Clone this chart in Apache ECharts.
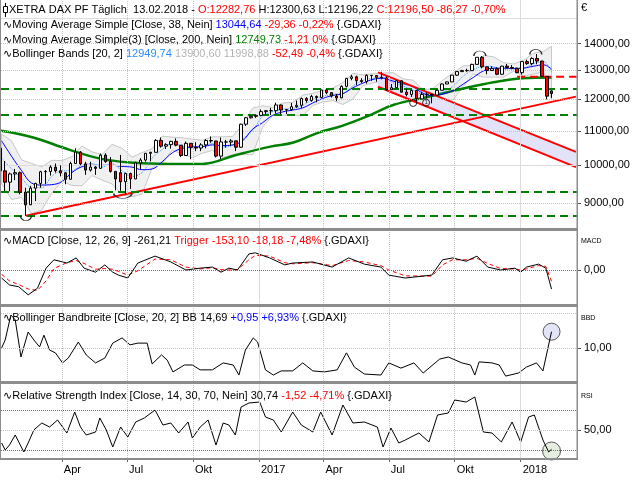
<!DOCTYPE html>
<html>
<head>
<meta charset="utf-8">
<script src="https://cdn.jsdelivr.net/npm/echarts@6.0.0/dist/echarts.min.js"></script>
<style>
html,body{margin:0;padding:0;background:#fff;}
#chart{width:640px;height:480px;}
</style>
</head>
<body>
<div id="chart"></div>
<script>
// ---------- DATA ----------
// weekly candles: [date, open, close, low, high]
const candles = [
['2016-01-06',10486,9849,9812,10486],['2016-01-13',9849,9545,9314,10120],['2016-01-20',9545,9764,9310,9800],['2016-01-27',9764,9798,9600,9900],
['2016-02-03',9798,9286,9230,9830],['2016-02-10',9286,8967,8699,9400],['2016-02-17',8967,9388,8960,9450],['2016-02-24',9388,9513,9060,9530],
['2016-03-02',9513,9824,9400,9850],['2016-03-09',9824,9831,9500,9870],['2016-03-16',9831,9950,9720,10000],['2016-03-23',9950,9851,9800,10050],
['2016-03-30',9851,9794,9700,10000],['2016-04-06',9794,9622,9490,9820],['2016-04-13',9622,10051,9620,10100],['2016-04-20',10051,10373,10050,10480],
['2016-04-27',10373,10039,10000,10400],['2016-05-04',10039,9870,9740,10100],['2016-05-11',9870,9952,9830,10100],['2016-05-18',9952,9916,9740,9980],
['2016-05-25',9916,10287,9900,10330],['2016-06-01',10287,10103,10070,10340],['2016-06-08',10103,9834,9800,10230],['2016-06-15',9834,9631,9330,9840],
['2016-06-22',9800,9557,9320,10290],['2016-06-29',9557,9776,9214,9800],['2016-07-06',9776,9630,9370,9800],['2016-07-13',9630,10066,9630,10100],
['2016-07-20',10066,10147,9900,10200],['2016-07-27',10147,10337,10100,10350],['2016-08-03',10337,10367,10110,10380],['2016-08-10',10367,10713,10370,10750],
['2016-08-17',10713,10544,10500,10800],['2016-08-24',10544,10588,10460,10630],['2016-08-31',10588,10684,10470,10700],['2016-09-07',10684,10573,10540,10770],
['2016-09-14',10573,10276,10230,10560],['2016-09-21',10276,10627,10260,10680],['2016-09-28',10627,10511,10170,10630],['2016-10-05',10511,10490,10400,10660],
['2016-10-12',10490,10580,10400,10630],['2016-10-19',10580,10711,10480,10750],['2016-10-26',10711,10696,10640,10830],['2016-11-02',10696,10259,10220,10700],
['2016-11-09',10259,10668,10170,10800],['2016-11-16',10668,10664,10500,10730],['2016-11-23',10664,10699,10550,10750],['2016-11-30',10699,10513,10400,10700],
['2016-12-07',10513,11203,10500,11220],['2016-12-14',11203,11404,11150,11430],['2016-12-21',11404,11450,11380,11480],['2016-12-28',11450,11481,11400,11490],
['2017-01-04',11481,11599,11450,11670],['2017-01-11',11599,11629,11500,11650],['2017-01-18',11629,11630,11490,11720],['2017-01-25',11630,11814,11540,11890],
['2017-02-01',11814,11651,11520,11830],['2017-02-08',11651,11666,11520,11680],['2017-02-15',11666,11757,11620,11880],['2017-02-22',11757,11804,11720,11960],
['2017-03-01',11804,12027,11720,12060],['2017-03-08',12027,11963,11890,12070],['2017-03-15',11963,12095,11920,12150],['2017-03-22',12095,12064,11900,12130],
['2017-03-29',12064,12313,12050,12320],['2017-04-05',12313,12225,12170,12330],['2017-04-12',12225,12109,12060,12240],['2017-04-19',12109,12049,11940,12180],
['2017-04-26',12049,12438,12040,12470],['2017-05-03',12438,12717,12400,12730],['2017-05-10',12717,12770,12650,12840],['2017-05-17',12770,12638,12480,12810],
['2017-05-24',12638,12602,12560,12720],['2017-05-31',12602,12823,12530,12860],['2017-06-07',12823,12816,12630,12830],['2017-06-14',12816,12753,12600,12820],
['2017-06-21',12753,12733,12680,12950],['2017-06-28',12733,12325,12290,12780],['2017-07-05',12325,12389,12330,12520],['2017-07-12',12389,12631,12380,12650],
['2017-07-19',12631,12240,12230,12660],['2017-07-26',12240,12163,12100,12340],['2017-08-02',12163,12298,12080,12320],['2017-08-09',12298,12014,11930,12300],
['2017-08-16',12014,12165,12000,12260],['2017-08-23',12165,12168,12030,12230],['2017-08-30',12168,12143,11870,12180],['2017-09-06',12143,12304,12130,12320],
['2017-09-13',12304,12519,12300,12540],['2017-09-20',12519,12592,12520,12600],['2017-09-27',12592,12829,12590,12830],['2017-10-04',12829,12956,12800,12970],
['2017-10-11',12956,12992,12940,13020],['2017-10-18',12992,12991,12950,13060],['2017-10-25',12991,13217,12980,13240],['2017-11-01',13217,13478,13210,13480],
['2017-11-08',13478,13127,13070,13525],['2017-11-15',13127,12994,12860,13130],['2017-11-22',12994,13060,12990,13150],['2017-11-29',13060,12861,12830,13110],
['2017-12-06',12861,13153,12850,13160],['2017-12-13',13153,13104,13070,13230],['2017-12-20',13104,13072,13040,13190],['2017-12-27',13072,12918,12900,13100],
['2018-01-03',12918,13320,12850,13330],['2018-01-10',13320,13245,13200,13390],['2018-01-17',13245,13434,13180,13480],['2018-01-24',13434,13340,13220,13600],
['2018-01-31',13340,12785,12780,13300],['2018-02-07',12785,12107,12000,12800],['2018-02-13',12283,12196,12050,12301]
];

const ma38 = [
['2016-01-08',10700],['2016-01-22',10250],['2016-02-05',9850],['2016-02-19',9520],['2016-03-04',9470],['2016-03-18',9480],['2016-04-01',9560],
['2016-04-15',9800],['2016-04-29',9960],['2016-05-13',10000],['2016-05-27',10000],['2016-06-10',10000],['2016-06-24',9970],['2016-07-08',9950],
['2016-07-22',9880],['2016-08-05',9900],['2016-08-19',10100],['2016-09-02',10350],['2016-09-16',10480],['2016-09-30',10520],['2016-10-14',10530],
['2016-10-28',10580],['2016-11-11',10560],['2016-11-25',10580],['2016-12-09',10700],['2016-12-23',11050],['2017-01-06',11250],['2017-01-20',11480],
['2017-02-03',11590],['2017-02-17',11650],['2017-03-03',11720],['2017-03-17',11880],['2017-03-31',12030],['2017-04-14',12130],['2017-04-28',12190],
['2017-05-12',12390],['2017-05-26',12550],['2017-06-09',12680],['2017-06-23',12720],['2017-07-07',12620],['2017-07-21',12530],['2017-08-04',12420],
['2017-08-18',12200],['2017-09-01',12120],['2017-09-15',12180],['2017-09-29',12300],['2017-10-13',12520],['2017-10-27',12750],['2017-11-10',12980],
['2017-11-24',13080],['2017-12-08',13080],['2017-12-22',13060],['2018-01-05',13080],['2018-01-19',13150],['2018-02-02',13200],['2018-02-13',13044.64]
];

const ma200 = [
['2016-01-07',11000],['2016-02-21',10800],['2016-04-10',10450],['2016-05-26',10180],['2016-07-11',10070],['2016-08-28',10040],['2016-10-14',10040],
['2016-11-30',10290],['2017-01-17',10530],['2017-02-18',10650],['2017-03-24',10940],['2017-04-27',11150],['2017-06-01',11450],['2017-07-08',11820],
['2017-08-24',12080],['2017-10-10',12350],['2017-11-26',12590],['2018-01-03',12720],['2018-02-13',12749.73]
];

const bbDates = ['2016-01-08','2016-01-22','2016-02-05','2016-02-19','2016-03-04','2016-03-18','2016-04-01','2016-04-15','2016-04-29','2016-05-13',
'2016-05-27','2016-06-10','2016-06-24','2016-07-08','2016-07-22','2016-08-05','2016-08-19','2016-09-02','2016-09-16','2016-09-30','2016-10-14',
'2016-10-28','2016-11-11','2016-11-25','2016-12-09','2016-12-23','2017-01-06','2017-01-20','2017-02-03','2017-02-17','2017-03-03','2017-03-17',
'2017-03-31','2017-04-14','2017-04-28','2017-05-12','2017-05-26','2017-06-09','2017-06-23','2017-07-07','2017-07-21','2017-08-04','2017-08-18',
'2017-09-01','2017-09-15','2017-09-29','2017-10-13','2017-10-27','2017-11-10','2017-11-24','2017-12-08','2017-12-22','2018-01-05','2018-01-19',
'2018-02-02','2018-02-13'];
const bbUpper = [10900,10700,10150,10050,9960,10140,10130,10240,10550,10380,10300,10600,10480,10230,10360,10470,10840,10810,10790,10750,10720,
10820,10820,10830,11180,11710,11790,11730,11880,11900,12140,12200,12290,12380,12570,12890,12840,12880,12900,12920,12700,12650,12320,12370,12670,
12910,13160,13190,13540,13500,13280,13230,13370,13630,13700,13900.60];
const bbMid = [10200,9900,9650,9400,9400,9700,9850,9850,10000,10050,9950,10050,9850,9700,9800,10200,10450,10620,10550,10480,10530,10620,10520,
10560,10750,11000,11450,11600,11680,11700,11800,12000,12100,12170,12200,12450,12650,12720,12760,12560,12450,12300,12150,12130,12250,12450,12800,
13030,13150,13130,13020,13100,13080,13250,13320,12949.74];
const bbLower = [9500,9100,9150,8750,8840,9260,9570,9460,9450,9720,9600,9500,9220,9170,9240,9930,10060,10430,10310,10210,10340,10420,10220,10290,
10320,10290,11110,11470,11480,11500,11460,11800,11910,11960,11830,12010,12460,12560,12620,12200,12200,11950,11980,11890,11830,11990,12440,12870,
12760,12760,12760,12970,12790,12870,12950,11998.88];

// horizontal support levels (green dashed)
const supportLevels = [12350, 11500, 9300, 8700];
// trend lines: [start, end] as [date, value]
const trendUp = [['2016-02-11', 8700], ['2018-03-19', 12090]];
const channelTop = [['2017-06-16', 12930], ['2018-03-19', 10380]];
const channelBottom = [['2017-06-16', 12425], ['2018-03-19', 9950]];
const resistance = [['2017-12-27', 12770], ['2018-03-20', 12770]];

const macdLine = [
['2016-01-08',-110],['2016-01-19',-205],['2016-02-01',-230],['2016-02-14',-340],['2016-02-27',-250],['2016-03-10',25],['2016-03-21',140],
['2016-04-08',95],['2016-04-21',165],['2016-05-02',25],['2016-05-18',-30],['2016-05-31',70],['2016-06-11',-30],['2016-06-19',-70],['2016-07-02',-110],
['2016-07-16',95],['2016-08-09',190],['2016-08-31',110],['2016-09-21',0],['2016-10-11',25],['2016-10-28',40],['2016-11-09',-30],['2016-11-20',25],
['2016-12-02',0],['2016-12-18',220],['2016-12-27',235],['2017-01-16',165],['2017-02-06',70],['2017-02-17',95],['2017-03-17',110],['2017-04-13',40],
['2017-05-06',165],['2017-05-28',80],['2017-06-20',40],['2017-07-01',-70],['2017-07-24',-110],['2017-08-30',-70],['2017-09-14',140],['2017-09-28',165],
['2017-10-17',120],['2017-11-01',190],['2017-11-16',40],['2017-12-04',0],['2017-12-24',25],['2018-01-01',-30],['2018-01-09',40],['2018-01-26',80],
['2018-02-05',25],['2018-02-13',-261.21]
];
const macdTrigger = [
['2016-01-08',-60],['2016-01-19',-150],['2016-02-01',-200],['2016-02-14',-260],['2016-02-27',-280],['2016-03-10',-150],['2016-03-21',20],
['2016-04-08',100],['2016-04-21',130],['2016-05-02',90],['2016-05-18',10],['2016-05-31',20],['2016-06-11',10],['2016-06-19',-20],['2016-07-02',-70],
['2016-07-16',-10],['2016-08-09',150],['2016-08-31',140],['2016-09-21',40],['2016-10-11',15],['2016-10-28',30],['2016-11-09',5],['2016-11-20',0],
['2016-12-02',5],['2016-12-18',140],['2016-12-27',200],['2017-01-16',190],['2017-02-06',100],['2017-02-17',85],['2017-03-17',100],['2017-04-13',60],
['2017-05-06',130],['2017-05-28',110],['2017-06-20',60],['2017-07-01',0],['2017-07-24',-80],['2017-08-30',-85],['2017-09-14',70],['2017-09-28',140],
['2017-10-17',140],['2017-11-01',160],['2017-11-16',90],['2017-12-04',20],['2017-12-24',15],['2018-01-01',0],['2018-01-09',15],['2018-01-26',60],
['2018-02-05',50],['2018-02-13',-153.10]
];

const bbWidth = [
['2016-01-08',10.0],['2016-01-13',12.3],['2016-01-21',19.5],['2016-01-27',18.1],['2016-02-04',7.4],['2016-02-14',14.6],['2016-02-22',12.3],
['2016-03-01',10.3],['2016-03-07',13.7],['2016-03-15',9.4],['2016-03-23',8.6],['2016-04-02',5.7],['2016-04-10',7.1],['2016-04-24',11.7],
['2016-05-05',8.0],['2016-05-18',5.7],['2016-05-31',7.1],['2016-06-11',11.4],['2016-06-24',12.9],['2016-07-05',10.9],['2016-07-16',11.4],
['2016-07-29',11.4],['2016-08-05',5.4],['2016-08-18',8.0],['2016-08-26',6.5],['2016-09-03',3.1],['2016-09-19',5.1],['2016-09-30',5.1],
['2016-10-11',3.7],['2016-10-28',3.7],['2016-11-12',5.7],['2016-11-26',5.1],['2016-12-04',2.2],['2016-12-13',9.4],['2016-12-24',12.9],
['2016-12-30',11.7],['2017-01-10',3.7],['2017-01-21',2.2],['2017-02-01',3.4],['2017-02-17',3.4],['2017-03-03',5.7],['2017-03-17',3.4],
['2017-04-02',3.1],['2017-04-20',3.7],['2017-05-03',8.6],['2017-05-14',4.5],['2017-05-28',2.5],['2017-06-20',2.2],['2017-07-01',5.7],
['2017-07-18',4.2],['2017-08-05',5.7],['2017-08-18',2.8],['2017-09-10',6.8],['2017-09-22',7.4],['2017-10-11',5.7],['2017-10-23',5.1],
['2017-10-29',2.2],['2017-11-04',6.0],['2017-11-22',5.7],['2017-12-02',5.1],['2017-12-11',1.9],['2017-12-29',2.8],['2018-01-09',4.5],
['2018-01-23',5.7],['2018-02-01',3.4],['2018-02-13',14.69]
];

const rsiLine = [
['2016-01-08',37],['2016-01-13',30],['2016-01-19',35],['2016-01-27',45],['2016-02-01',38],['2016-02-08',28],['2016-02-14',37],['2016-02-22',50],
['2016-03-04',57],['2016-03-15',53],['2016-03-26',60],['2016-04-08',47],['2016-04-19',68],['2016-04-27',53],['2016-05-05',45],['2016-05-18',48],
['2016-05-24',62],['2016-06-02',50],['2016-06-11',33],['2016-06-22',53],['2016-07-02',43],['2016-07-13',58],['2016-07-25',62],['2016-08-09',70],
['2016-08-20',55],['2016-08-31',57],['2016-09-11',47],['2016-09-24',58],['2016-09-30',42],['2016-10-11',53],['2016-10-22',60],['2016-11-02',35],
['2016-11-12',57],['2016-11-20',55],['2016-11-29',45],['2016-12-07',73],['2016-12-18',77],['2017-01-02',78],['2017-01-10',63],['2017-01-21',60],
['2017-02-01',48],['2017-02-17',68],['2017-03-01',55],['2017-03-17',48],['2017-03-28',68],['2017-04-13',45],['2017-04-28',75],['2017-05-12',57],
['2017-05-28',58],['2017-06-15',53],['2017-06-23',33],['2017-07-04',52],['2017-07-15',37],['2017-07-24',40],['2017-08-12',47],['2017-08-26',38],
['2017-09-07',65],['2017-09-22',67],['2017-10-01',80],['2017-10-17',78],['2017-10-29',83],['2017-11-10',48],['2017-11-22',47],['2017-12-05',38],
['2017-12-20',58],['2018-01-01',38],['2018-01-12',63],['2018-01-20',65],['2018-02-01',40],['2018-02-09',28],['2018-02-13',30.74]
];

const priceTicks = [9000, 10000, 11000, 12000, 13000, 14000];
const priceGridSolid = [10000, 15000];
const priceGridDotted = [9000, 11000, 12000, 13000, 14000];
const quarterTicks = ['2016-04-01','2016-07-01','2016-10-01','2017-01-01','2017-04-01','2017-07-01','2017-10-01','2018-01-01'];
const quarterNames = {3:'Apr', 6:'Jul', 9:'Okt'};

// ---------- HELPERS ----------
const T = s => Date.parse(s.length === 10 ? s + 'T00:00:00Z' : s + 'Z');
const XMIN = T('2016-01-07T04:00:00'), XMAX = T('2018-03-20T12:00:00');
const FONT = '"Liberation Sans", Arial, sans-serif';
const pts = arr => arr.map(p => [T(p[0]), p[1]]);
const fmt = v => v.toFixed(2).replace('.', ',');
const DOT = '#c4c4c4', SOLID = '#dcdcdc';

function vGrid() {
  return quarterTicks.map(q => ({
    xAxis: T(q),
    lineStyle: q.endsWith('01-01') ? {type:'solid', color: SOLID, width:1} : {type:'dotted', color: DOT, width:1}
  }));
}
function ml(data) {
  return {silent:true, symbol:['none','none'], label:{show:false}, animation:false, emphasis:{disabled:true}, data};
}
function dummy(xi, yv, data, z) {
  return {type:'line', xAxisIndex:xi, yAxisIndex:xi, data:[[T('2017-01-01'), yv]], symbol:'none', silent:true,
          lineStyle:{width:0, opacity:0}, z: z||0, markLine: ml(data), animation:false};
}
function polyItem(top, bottom, fill, stroke) {
  return function(params, api) {
    if (params.dataIndex !== 0) return null;
    const p = [];
    top.forEach(d => p.push(api.coord(d)));
    for (let i = bottom.length - 1; i >= 0; i--) p.push(api.coord(bottom[i]));
    return {type:'polygon', shape:{points:p}, style:{fill: fill, stroke: stroke || null, lineWidth: 1}};
  };
}

const upperPts = bbDates.map((d, i) => [T(d), bbUpper[i]]);
const lowerPts = bbDates.map((d, i) => [T(d), bbLower[i]]);
const midPts = bbDates.map((d, i) => [T(d), bbMid[i]]);

// ---------- CHART ----------
const chart = echarts.init(document.getElementById('chart'), null, {renderer:'canvas'});

const grids = [
  {left:1, right:63, top:0, height:228},
  {left:1, right:63, top:231, height:72},
  {left:1, right:63, top:307, height:74},
  {left:1, right:63, top:384, height:74}
];
const xAxes = grids.map((g, i) => ({
  type:'value', gridIndex:i, min:XMIN, max:XMAX, scale:true,
  axisLine:{show:false}, splitLine:{show:false},
  axisTick: i === 3 ? {show:true, customValues: quarterTicks.map(T), length:4, lineStyle:{color:'#666'}} : {show:false},
  axisLabel: i === 3 ? {
    show:true, customValues: quarterTicks.map(T), align:'left', margin:6, padding:[0,0,0,2],
    color:'#000', fontSize:11, fontFamily:FONT,
    formatter: v => { const d = new Date(v); const m = d.getUTCMonth(); return m === 0 ? String(d.getUTCFullYear()) : quarterNames[m]; }
  } : {show:false}
}));
const labStyle = {color:'#000', fontSize:11, fontFamily:FONT, margin:7};
const yAxes = [
  {type:'log', gridIndex:0, min:8410, max:15790, position:'right', axisLine:{show:false}, splitLine:{show:false},
   axisTick:{show:true, customValues:priceTicks, length:4, lineStyle:{color:'#555'}},
   axisLabel:Object.assign({customValues:priceTicks, formatter: v => fmt(v)}, labStyle)},
  {type:'value', gridIndex:1, min:-452, max:534, position:'right', axisLine:{show:false}, splitLine:{show:false},
   axisTick:{show:true, customValues:[0], length:4, lineStyle:{color:'#555'}},
   axisLabel:Object.assign({customValues:[0], formatter: v => fmt(v)}, labStyle)},
  {type:'value', gridIndex:2, min:0.49, max:21.8, position:'right', axisLine:{show:false}, splitLine:{show:false},
   axisTick:{show:true, customValues:[10], length:4, lineStyle:{color:'#555'}},
   axisLabel:Object.assign({customValues:[10], formatter: v => fmt(v)}, labStyle)},
  {type:'value', gridIndex:3, min:22, max:96, position:'right', axisLine:{show:false}, splitLine:{show:false},
   axisTick:{show:true, customValues:[50], length:4, lineStyle:{color:'#555'}},
   axisLabel:Object.assign({customValues:[50], formatter: v => fmt(v)}, labStyle)}
];

const arcDown = 'path://M0,0 A10,10 0 0 0 20,0';
const arcUp = 'path://M0,10 A10,10 0 0 1 20,10';

const series = [
  dummy(0, 12000, vGrid()
    .concat(priceGridDotted.map(v => ({yAxis:v, lineStyle:{type:'dotted', color:DOT, width:1}})))
    .concat(priceGridSolid.map(v => ({yAxis:v, lineStyle:{type:'solid', color:SOLID, width:1}}))), 0),
  {type:'custom', xAxisIndex:0, yAxisIndex:0, z:1, silent:true, clip:true, animation:false,
   renderItem: polyItem(upperPts, lowerPts, '#f0f0f0', '#c8c8c8'), data:[[T('2017-01-01'), 12000]]},
  {type:'custom', xAxisIndex:0, yAxisIndex:0, z:1, silent:true, clip:true, animation:false,
   renderItem: polyItem(pts(channelTop), pts(channelBottom), '#e2e2f8', null), data:[[T('2017-09-01'), 12000]]},
  dummy(0, 12000, supportLevels.map(v => ({yAxis:v, lineStyle:{type:[8,5], color:'#008000', width:2}})), 2),
  {type:'line', xAxisIndex:0, yAxisIndex:0, data:pts(ma200), smooth:0.4, symbol:'none', z:3,
   lineStyle:{color:'#008000', width:2.5}, animation:false, silent:true},
  {type:'line', xAxisIndex:0, yAxisIndex:0, data:midPts, smooth:0.3, symbol:'none', z:3,
   lineStyle:{color:'#3399ff', width:1, type:'dotted'}, animation:false, silent:true},
  {type:'line', xAxisIndex:0, yAxisIndex:0, data:pts(ma38), smooth:0.4, symbol:'none', z:4,
   lineStyle:{color:'#0000ff', width:1}, animation:false, silent:true},
  {type:'line', xAxisIndex:0, yAxisIndex:0, data:pts(trendUp), symbol:'none', z:4,
   lineStyle:{color:'#ff0000', width:2}, animation:false, silent:true},
  {type:'line', xAxisIndex:0, yAxisIndex:0, data:pts(channelTop), symbol:'none', z:4,
   lineStyle:{color:'#ff0000', width:2}, animation:false, silent:true},
  {type:'line', xAxisIndex:0, yAxisIndex:0, data:pts(channelBottom), symbol:'none', z:4,
   lineStyle:{color:'#ff0000', width:2}, animation:false, silent:true},
  {type:'line', xAxisIndex:0, yAxisIndex:0, data:pts(resistance), symbol:'none', z:4,
   lineStyle:{color:'#ff0000', width:2, type:[8,5]}, animation:false, silent:true},
  {type:'candlestick', xAxisIndex:0, yAxisIndex:0, z:5, barWidth:3, animation:false, silent:true,
   data: candles.map(c => [T(c[0]), c[1], c[2], c[3], c[4]]), encode:{x:0, y:[1,2,3,4]},
   itemStyle:{color:'#ffffff', color0:'#ff0000', borderColor:'#000000', borderColor0:'#000000', borderWidth:1}},
  {type:'scatter', xAxisIndex:0, yAxisIndex:0, z:6, animation:false, silent:true,
   itemStyle:{color:'rgba(0,0,0,0)', borderColor:'#000', borderWidth:1},
   data:[
     {value:[T('2016-02-11'), 8640], symbol:arcDown, symbolSize:[11,5]},
     {value:[T('2016-06-25'), 9190], symbol:arcDown, symbolSize:[18,5]},
     {value:[T('2017-08-04'), 11880], symbol:'circle', symbolSize:7},
     {value:[T('2017-08-22'), 11890], symbol:'circle', symbolSize:7, label:{show:true, position:'inside', formatter:'1', fontSize:6, color:'#000'}},
     {value:[T('2017-11-05'), 13620], symbol:arcUp, symbolSize:[12,5]},
     {value:[T('2018-01-22'), 13680], symbol:arcUp, symbolSize:[12,5]}
   ]},

  dummy(1, 0, vGrid().concat([{yAxis:0, lineStyle:{type:'dotted', color:'#1e7fe0', width:1}}]), 0),
  {type:'line', xAxisIndex:1, yAxisIndex:1, data:pts(macdTrigger), symbol:'none', z:3,
   lineStyle:{color:'#ff0000', width:1, type:[4,3]}, animation:false, silent:true},
  {type:'line', xAxisIndex:1, yAxisIndex:1, data:pts(macdLine), symbol:'none', z:4,
   lineStyle:{color:'#000', width:1}, animation:false, silent:true},

  dummy(2, 10, vGrid().concat([10, 20].map(v => ({yAxis:v, lineStyle:{type:'dotted', color:DOT, width:1}}))), 0),
  {type:'scatter', xAxisIndex:2, yAxisIndex:2, z:2, animation:false, silent:true,
   data:[[T('2018-02-13'), 14.69]], symbol:'circle', symbolSize:17,
   itemStyle:{color:'#dcdff4', borderColor:'#333', borderWidth:1}},
  {type:'line', xAxisIndex:2, yAxisIndex:2, data:pts(bbWidth), symbol:'none', z:4,
   lineStyle:{color:'#000', width:1}, animation:false, silent:true},

  dummy(3, 50, vGrid().concat([
     {yAxis:70, lineStyle:{type:'dotted', color:'#1e7fe0', width:1}},
     {yAxis:30, lineStyle:{type:'dotted', color:'#1e7fe0', width:1}},
     {yAxis:50, lineStyle:{type:'dotted', color:DOT, width:1}}]), 0),
  {type:'scatter', xAxisIndex:3, yAxisIndex:3, z:2, animation:false, silent:true,
   data:[[T('2018-02-13'), 29]], symbol:'circle', symbolSize:18,
   itemStyle:{color:'#dfe8da', borderColor:'#333', borderWidth:1}},
  {type:'line', xAxisIndex:3, yAxisIndex:3, data:pts(rsiLine), symbol:'none', z:4,
   lineStyle:{color:'#000', width:1}, animation:false, silent:true}
];

// ---------- TEXT / FRAME ----------
const rich = {
  k:{fill:'#000', fontSize:11, fontFamily:FONT},
  r:{fill:'#ff0000', fontSize:11, fontFamily:FONT},
  b:{fill:'#0000ff', fontSize:11, fontFamily:FONT},
  g:{fill:'#008000', fontSize:11, fontFamily:FONT},
  lb:{fill:'#2a8cff', fontSize:11, fontFamily:FONT},
  gr:{fill:'#b4b4b4', fontSize:11, fontFamily:FONT},
  i:{fill:'#000', fontSize:11, fontFamily:'"DejaVu Sans"'}
};
function txt(x, y, text) {
  return {type:'text', x:x, y:y, z:100, silent:true,
          style:{text:text, rich:rich, fill:'#000', font:'11px ' + FONT, verticalAlign:'middle', align:'left'}};
}
function smallTxt(x, y, text, size) {
  return {type:'text', x:x, y:y, z:100, silent:true,
          style:{text:text, fill:'#000', font:(size||8) + 'px ' + FONT, verticalAlign:'middle', align:'left'}};
}
const frame = '#8c8c8c';
const graphic = [
  {type:'rect', shape:{x:0, y:228, width:578, height:3}, style:{fill:frame}, z:90, silent:true},
  {type:'rect', shape:{x:0, y:304, width:578, height:3}, style:{fill:frame}, z:90, silent:true},
  {type:'rect', shape:{x:0, y:381, width:578, height:3}, style:{fill:frame}, z:90, silent:true},
  {type:'rect', shape:{x:0, y:458, width:578, height:2}, style:{fill:frame}, z:90, silent:true},
  {type:'rect', shape:{x:0, y:0, width:1, height:460}, style:{fill:frame}, z:90, silent:true},
  {type:'rect', shape:{x:576.5, y:0, width:1.5, height:460}, style:{fill:frame}, z:90, silent:true},
  {type:'line', shape:{x1:5.5, y1:3, x2:5.5, y2:17}, style:{stroke:'#000', lineWidth:1}, z:100, silent:true},
  {type:'rect', shape:{x:3.5, y:6.5, width:4, height:6}, style:{fill:'#fff', stroke:'#000', lineWidth:1}, z:101, silent:true},
  txt(9, 10, '{k|XETRA DAX PF Täglich  13.02.2018 - }{r|O:12282,76}{k| H:12300,63 L:12196,22 }{r|C:12196,50 -86,27 -0,70%}'),
  txt(3, 25, '{i|∿}{k|Moving Average Simple [Close, 38, Nein] }{b|13044,64}{r| -29,36 -0,22%} {.GDAXI}'),
  txt(3, 40, '{i|∿}{k|Moving Average Simple(3) [Close, 200, Nein] }{g|12749,73}{r| -1,21 0%} {.GDAXI}'),
  txt(3, 54, '{i|∿}{k|Bollinger Bands [20, 2] }{lb|12949,74}{gr| 13900,60 11998,88}{r| -52,49 -0,4%} {.GDAXI}'),
  txt(3, 241, '{i|∿}{k|MACD [Close, 12, 26, 9] -261,21 }{r|Trigger -153,10 -18,18 -7,48%} {.GDAXI}'),
  txt(3, 318, '{i|∿}{k|Bollinger Bandbreite [Close, 20, 2] BB 14,69 }{b|+0,95 +6,93%} {.GDAXI}'),
  txt(3, 396, '{i|∿}{k|Relative Strength Index [Close, 14, 30, 70, Nein] 30,74 }{r|-1,52 -4,71%} {.GDAXI}'),
  smallTxt(581, 8, '€', 11),
  smallTxt(581, 241, 'MACD', 7),
  smallTxt(581, 318, 'BBD', 7),
  smallTxt(581, 396, 'RSI', 7)
];

chart.setOption({
  animation:false,
  backgroundColor:'#ffffff',
  grid: grids,
  xAxis: xAxes,
  yAxis: yAxes,
  series: series,
  graphic: graphic
});
</script>
</body>
</html>
